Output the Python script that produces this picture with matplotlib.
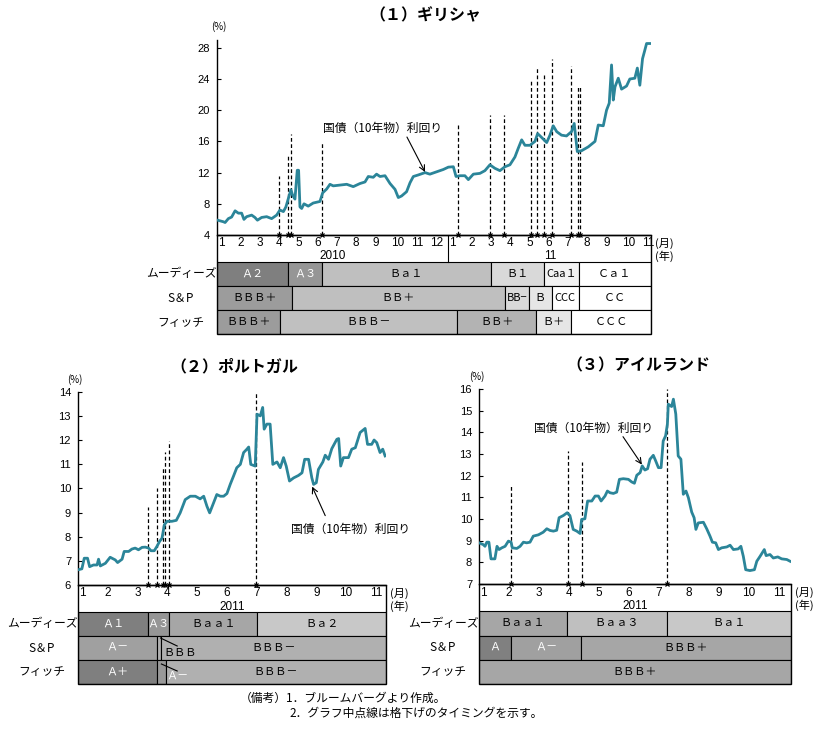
import numpy as np
import matplotlib
matplotlib.use("Agg")
import matplotlib.pyplot as plt
from matplotlib.patches import Rectangle

plt.rcParams['font.family'] = ['Noto Sans CJK JP', 'DejaVu Sans']
NUM_FONT = ['Liberation Sans Narrow', 'Liberation Sans', 'DejaVu Sans']

# ---------------- data ----------------
# x positions are months counted from the first month shown (0 = start of Jan)
# (1) Greece, from Jan 2010
gr_x = [0.00, 0.33, 0.42, 0.59, 0.76, 0.94, 1.11, 1.28, 1.40, 1.54,
        1.80, 1.97, 2.10, 2.32, 2.58, 2.84, 3.10, 3.27, 3.45, 3.58,
        3.71, 3.84, 3.93, 4.05, 4.17, 4.24, 4.31, 4.40, 4.52, 4.74,
        5.00, 5.35, 5.49, 5.70, 5.87, 6.04, 6.39, 6.74, 7.08, 7.43,
        7.69, 7.86, 8.12, 8.29, 8.47, 8.73, 8.99, 9.25, 9.42, 9.59,
        9.85, 10.03, 10.20, 10.46, 10.81, 11.06, 11.41, 11.76, 12.02, 12.28,
        12.42, 12.62, 12.88, 13.06, 13.32, 13.66, 13.92, 14.18, 14.44, 14.70,
        14.96, 15.22, 15.48, 15.65, 15.83, 16.00, 16.26, 16.52, 16.66, 16.87,
        17.13, 17.30, 17.47, 17.65, 17.90, 18.16, 18.42, 18.56, 18.72, 18.94,
        19.29, 19.64, 19.81, 20.07, 20.24, 20.38, 20.50, 20.59, 20.68, 20.85,
        21.02, 21.28, 21.45, 21.71, 21.84, 21.97, 22.11, 22.23, 22.32, 22.49]
gr_y = [5.92, 5.7, 5.6, 6.1, 6.3, 7.1, 6.8, 6.8, 6.0, 6.35,
        6.55, 6.25, 5.9, 6.25, 6.35, 6.1, 6.55, 7.2, 7.0, 7.6,
        8.7, 9.8, 9.1, 8.6, 12.3, 12.3, 7.6, 7.4, 8.0, 7.7,
        8.1, 8.3, 9.4, 9.9, 10.5, 10.3, 10.4, 10.5, 10.2, 10.6,
        10.8, 11.5, 11.4, 11.8, 11.5, 11.6, 10.6, 9.85, 8.8, 9.0,
        9.55, 10.7, 11.5, 11.7, 12.0, 11.8, 12.1, 12.4, 12.7, 12.75,
        11.5, 11.6, 11.6, 11.1, 11.8, 11.9, 12.25, 13.0, 12.55, 12.25,
        12.75, 13.0, 14.0, 15.1, 16.2, 15.5, 15.5, 16.0, 17.0, 16.5,
        15.85, 16.8, 18.0, 17.25, 16.8, 16.7, 17.25, 18.3, 14.7, 14.8,
        15.3, 16.0, 18.1, 18.0, 20.0, 20.9, 25.8, 21.3, 23.0, 24.1,
        22.7, 23.1, 24.0, 24.1, 25.4, 23.2, 26.6, 27.7, 28.55, 28.55]
gr_dash_x = [3.22, 3.69, 3.84, 5.45, 12.52, 14.18, 14.91, 16.31, 16.62,
             16.99, 17.40, 18.39, 18.75, 18.86]
gr_dash_top = [11.5, 14.3, 17.0, 15.8, 18.1, 19.4, 19.4, 23.9, 25.6,
               24.5, 26.5, 25.7, 23.1, 23.1]
gr_moodys_cut = [3.69, 5.45, 14.23, 17.0, 18.8]
gr_moodys = ["Ａ２", "Ａ３", "Ｂａ１", "Ｂ１", "Caa１", "Ｃａ１"]
gr_sp_cut = [3.9, 14.96, 16.2, 17.4, 18.8]
gr_sp = ["ＢＢＢ＋", "ＢＢ＋", "BB−", "Ｂ", "CCC", "ＣＣ"]
gr_fitch_cut = [3.27, 12.47, 16.6, 18.4]
gr_fitch = ["ＢＢＢ＋", "ＢＢＢ－", "ＢＢ＋", "Ｂ＋", "ＣＣＣ"]

# (2) Portugal, from Jan 2011
pt_x = [0.00, 0.13, 0.21, 0.32, 0.39, 0.52, 0.64, 0.69, 0.75, 0.92,
        1.08, 1.25, 1.33, 1.48, 1.55, 1.70, 1.81, 1.92, 2.03, 2.15,
        2.26, 2.37, 2.45, 2.56, 2.65, 2.74, 2.82, 2.90, 2.99, 3.15,
        3.30, 3.43, 3.60, 3.77, 3.94, 4.10, 4.22, 4.33, 4.42, 4.55,
        4.66, 4.78, 4.89, 5.00, 5.11, 5.22, 5.33, 5.45, 5.56, 5.67,
        5.73, 5.80, 5.95, 6.01, 6.12, 6.20, 6.25, 6.34, 6.45, 6.54,
        6.68, 6.79, 6.90, 6.99, 7.10, 7.24, 7.40, 7.52, 7.61, 7.74,
        7.85, 7.91, 8.00, 8.07, 8.22, 8.30, 8.41, 8.52, 8.69, 8.75,
        8.82, 8.91, 9.08, 9.19, 9.31, 9.47, 9.64, 9.72, 9.86, 9.94,
        10.03, 10.14, 10.23, 10.31]
pt_y = [6.63, 6.67, 7.11, 7.11, 6.76, 6.83, 6.83, 7.07, 6.79, 6.9,
        7.15, 7.04, 6.93, 7.07, 7.39, 7.39, 7.49, 7.53, 7.46, 7.56,
        7.57, 7.53, 7.42, 7.42, 7.60, 7.81, 7.94, 8.5, 8.64, 8.64,
        8.68, 8.99, 9.54, 9.68, 9.68, 9.57, 9.68, 9.26, 8.99, 9.4,
        9.75, 9.68, 9.68, 9.79, 10.17, 10.51, 10.86, 11.0, 11.49, 11.63,
        11.72, 11.0, 10.93, 13.08, 13.01, 13.36, 12.46, 12.67, 12.67, 11.0,
        11.1, 10.86, 11.28, 10.93, 10.31, 10.44, 10.54, 10.65, 11.21, 11.21,
        10.44, 10.17, 10.24, 10.79, 11.1, 11.38, 11.21, 11.65, 12.04, 12.07,
        10.93, 11.28, 11.28, 11.63, 11.69, 12.32, 12.49, 11.83, 11.83, 12.01,
        11.9, 11.49, 11.63, 11.35]
pt_dash_x = [2.35, 2.66, 2.84, 2.91, 3.04, 5.98]
pt_dash_top = [9.25, 10.0, 10.88, 11.5, 11.95, 14.0]
pt_moodys_cut = [2.36, 3.06, 6.02]
pt_moodys = ["Ａ１", "Ａ３", "Ｂａａ１", "Ｂａ２"]
pt_sp_cut = [2.66, 2.80]
pt_sp = ["Ａ－", "", "ＢＢＢ－"]
pt_fitch_cut = [2.66, 2.96]
pt_fitch = ["Ａ＋", "", "ＢＢＢ－"]

# (3) Ireland, from Jan 2011
ie_x = [0.0, 0.14, 0.2, 0.26, 0.33, 0.4, 0.53, 0.6, 0.67, 0.76,
        0.87, 0.98, 1.07, 1.11, 1.26, 1.37, 1.48, 1.59, 1.70, 1.81,
        1.98, 2.14, 2.26, 2.37, 2.48, 2.59, 2.67, 2.81, 2.94, 3.03,
        3.14, 3.26, 3.37, 3.42, 3.53, 3.62, 3.76, 3.87, 3.98, 4.07,
        4.2, 4.28, 4.37, 4.48, 4.59, 4.68, 4.81, 4.98, 5.09, 5.18,
        5.26, 5.37, 5.44, 5.53, 5.62, 5.7, 5.81, 5.89, 5.98, 6.07,
        6.14, 6.22, 6.28, 6.31, 6.42, 6.48, 6.56, 6.64, 6.73, 6.81,
        6.9, 6.98, 7.09, 7.17, 7.23, 7.31, 7.48, 7.59, 7.7, 7.78,
        7.89, 7.98, 8.09, 8.26, 8.37, 8.48, 8.64, 8.73, 8.81, 8.89,
        9.03, 9.18, 9.26, 9.37, 9.51, 9.57, 9.7, 9.81, 9.96, 10.09,
        10.26, 10.37]
ie_y = [8.9, 8.82, 8.74, 8.93, 8.93, 8.16, 8.16, 8.74, 8.59, 8.67,
        8.74, 8.98, 8.93, 8.67, 8.64, 8.74, 8.93, 8.9, 8.93, 9.21,
        9.27, 9.39, 9.55, 9.47, 9.44, 9.48, 10.06, 10.16, 10.29, 10.16,
        9.52, 9.44, 9.33, 9.98, 10.01, 10.83, 10.83, 11.06, 11.06, 10.83,
        11.06, 11.29, 11.21, 11.18, 11.24, 11.83, 11.86, 11.83, 11.71, 11.65,
        12.02, 12.14, 12.45, 12.26, 12.32, 12.76, 12.94, 12.68, 12.37, 12.37,
        13.6, 13.84, 14.38, 15.3, 15.19, 15.53, 14.84, 12.91, 12.76, 11.14,
        11.29, 10.98, 10.32, 10.06, 9.52, 9.82, 9.85, 9.55, 9.21, 8.93,
        8.9, 8.59, 8.67, 8.71, 8.79, 8.59, 8.62, 8.74, 8.28, 7.66,
        7.62, 7.66, 8.05, 8.28, 8.59, 8.31, 8.36, 8.2, 8.25, 8.16,
        8.13, 8.05]
ie_dash_x = [1.07, 2.98, 3.42, 6.28]
ie_dash_top = [11.55, 13.14, 12.63, 16.0]
ie_moodys_cut = [2.93, 6.27]
ie_moodys = ["Ｂａａ１", "Ｂａａ３", "Ｂａ１"]
ie_sp_cut = [1.07, 3.4]
ie_sp = ["Ａ", "Ａ－", "ＢＢＢ＋"]
ie_fitch_cut = []
ie_fitch = ["ＢＢＢ＋"]

agency_names = ["ムーディーズ", "S＆P", "フィッチ"]
line_label = "国債（10年物）利回り"

# ---------------- styles ----------------
LINE_COLOR = "#2b8599"
W, H = 825, 730
fig = plt.figure(figsize=(W / 100, H / 100), dpi=100)


def box(l, t, r, b):
    return fig.add_axes([l / W, 1 - b / H, (r - l) / W, (b - t) / H])


def ftext(x, y, s, **kw):
    fig.text(x / W, 1 - y / H, s, **kw)


def draw_chart(ax, x, y, xmax, ylim, yticks, dash_x, dash_top):
    ax.plot(x, y, color=LINE_COLOR, lw=2.0, solid_joinstyle='round', zorder=3)
    for dx, dt in zip(dash_x, dash_top):
        ax.plot([dx, dx], [ylim[0], dt], color='black', lw=0.9,
                ls=(0, (3, 2)), zorder=2)
    ax.plot(dash_x, [ylim[0]] * len(dash_x), 'x', color='black', ms=3,
            mew=0.9, clip_on=False, zorder=4)
    ax.set_xlim(0, xmax)
    ax.set_ylim(*ylim)
    ax.set_yticks(yticks)
    ax.set_xticks([])
    ax.tick_params(axis='y', direction='in', length=3, width=0.8, pad=5,
                   labelsize=8)
    for lab in ax.get_yticklabels():
        lab.set_family(NUM_FONT)
    for s in ['top', 'right']:
        ax.spines[s].set_visible(False)
    ax.spines['left'].set_linewidth(1.0)
    ax.spines['bottom'].set_linewidth(1.0)
    ax.patch.set_alpha(0)


def draw_table(ax, xmax, month_pos, month_ha, years, year_pos, year_breaks, rows):
    label_h, row_h = 27, 24
    total = label_h + 3 * row_h
    ax.set_xlim(0, xmax)
    ax.set_ylim(total, 0)
    ax.axis('off')
    months = list(range(1, 13)) * 2
    for i, p in enumerate(month_pos):
        ax.text(p, 8.5, str(months[i]), ha=month_ha[i], va='center',
                fontsize=8.5, family=NUM_FONT)
    for yl, yp in zip(years, year_pos):
        ax.text(yp, 21.5, yl, ha='center', va='center', fontsize=8.5,
                family=NUM_FONT)
    for b in year_breaks:
        ax.plot([b, b], [0, label_h], color='black', lw=0.8)
    for i, (cuts, labels, colors, tcols) in enumerate(rows):
        edges = np.array([0] + cuts + [xmax])
        top = label_h + i * row_h
        ax.barh(top, np.diff(edges), left=edges[:-1], height=row_h,
                align='edge', color=colors, edgecolor='black', lw=0.8)
        for j, lab in enumerate(labels):
            if lab:
                ax.text((edges[j] + edges[j + 1]) / 2, top + row_h / 2, lab,
                        ha='center', va='center', fontsize=8, color=tcols[j])
    ax.add_patch(Rectangle((0, 0), xmax, total, fill=False, ec='black',
                           lw=1.0, clip_on=False))
    return label_h, row_h


# ---------------- (1) Greece ----------------
GR = (217, 40, 651, 235, 334)
ax = box(GR[0], GR[1], GR[2], GR[3])
gr_xmax = 22.55
draw_chart(ax, gr_x, gr_y, gr_xmax, (4, 29.0), range(4, 29, 4), gr_dash_x, gr_dash_top)
ax.text(8.62, 17.72, line_label, ha='center', va='center', fontsize=8.5)
ax.annotate('', xy=(10.81, 12.08), xytext=(9.87, 16.56),
            arrowprops=dict(arrowstyle='->', lw=0.8, color='black',
                            shrinkA=0, shrinkB=0))
tb = box(GR[0], GR[3], GR[2], GR[4])
draw_table(tb, gr_xmax, [m + 0.06 for m in range(23)], ['left'] * 23,
           ["2010", "11"], [6, 17.3], [12],
           [(gr_moodys_cut, gr_moodys,
             ["#7f7f7f", "#969696", "#bfbfbf", "#d9d9d9", "#f2f2f2", "#ffffff"],
             ["white", "white", "black", "black", "black", "black"]),
            (gr_sp_cut, gr_sp,
             ["#9c9c9c", "#bfbfbf", "#d9d9d9", "#e6e6e6", "#ffffff", "#ffffff"],
             ["black"] * 6),
            (gr_fitch_cut, gr_fitch,
             ["#9c9c9c", "#c0c0c0", "#b3b3b3", "#e6e6e6", "#ffffff"],
             ["black"] * 5)])
ftext(425, 15, "（１）ギリシャ", ha='center', va='center', fontsize=11.5, weight='bold')
ftext(219, 27, "(%)", ha='center', va='center', fontsize=7)

# ---------------- (2) Portugal ----------------
PT = (78, 392, 386, 585, 684)
ax = box(PT[0], PT[1], PT[2], PT[3])
pt_xmax = 10.34
draw_chart(ax, pt_x, pt_y, pt_xmax, (6, 14.0), range(6, 15), pt_dash_x, pt_dash_top)
ax.text(9.14, 8.29, line_label, ha='center', va='center', fontsize=8.5)
ax.annotate('', xy=(7.86, 10.08), xytext=(8.30, 8.875),
            arrowprops=dict(arrowstyle='->', lw=0.8, color='black',
                            shrinkA=0, shrinkB=0))
tb = box(PT[0], PT[3], PT[2], PT[4])
lh, rh = draw_table(tb, pt_xmax, [0.03] + list(range(1, 11)), ['left'] + ['center'] * 10,
                    ["2011"], [pt_xmax / 2], [],
                    [(pt_moodys_cut, pt_moodys,
                      ["#7f7f7f", "#969696", "#a6a6a6", "#c8c8c8"],
                      ["white", "white", "black", "black"]),
                     (pt_sp_cut, pt_sp, ["#a0a0a0", "#b0b0b0", "#b0b0b0"],
                      ["white", "black", "black"]),
                     (pt_fitch_cut, pt_fitch, ["#7f7f7f", "#999999", "#b0b0b0"],
                      ["white", "white", "black"])])
# labels of the narrow cells, drawn outside with a leader line
tb.plot([2.77, 3.33], [53, 61], color='black', lw=0.8)
tb.text(2.86, 68, "ＢＢＢ", ha='left', va='center', fontsize=8)
tb.plot([2.80, 3.33], [79, 86], color='black', lw=0.8)
tb.text(3.34, 92, "Ａ－", ha='center', va='center', fontsize=8, color='white')
ftext(234, 366, "（２）ポルトガル", ha='center', va='center', fontsize=11.5, weight='bold')
ftext(75, 380, "(%)", ha='center', va='center', fontsize=7)

# ---------------- (3) Ireland ----------------
IE = (479, 389, 791, 584, 684)
ax = box(IE[0], IE[1], IE[2], IE[3])
ie_xmax = 10.4
draw_chart(ax, ie_x, ie_y, ie_xmax, (7, 16.0), range(7, 17), ie_dash_x, ie_dash_top)
ax.text(3.82, 14.18, line_label, ha='center', va='center', fontsize=8.5)
ax.annotate('', xy=(5.43, 12.51), xytext=(4.8, 13.8),
            arrowprops=dict(arrowstyle='->', lw=0.8, color='black',
                            shrinkA=0, shrinkB=0))
tb = box(IE[0], IE[3], IE[2], IE[4])
draw_table(tb, ie_xmax, [0.03] + list(range(1, 11)), ['left'] + ['center'] * 10,
           ["2011"], [ie_xmax / 2], [],
           [(ie_moodys_cut, ie_moodys, ["#a6a6a6", "#bfbfbf", "#c8c8c8"],
             ["black"] * 3),
            (ie_sp_cut, ie_sp, ["#808080", "#a0a0a0", "#a6a6a6"],
             ["white", "white", "black"]),
            (ie_fitch_cut, ie_fitch, ["#a6a6a6"], ["black"])])
ftext(638, 365, "（３）アイルランド", ha='center', va='center', fontsize=11.5, weight='bold')
ftext(477, 377, "(%)", ha='center', va='center', fontsize=7)

# row labels and unit labels for all three tables
for (l, t_tab, r) in [(GR[0], GR[3], GR[2]), (PT[0], PT[3], PT[2]), (IE[0], IE[3], IE[2])]:
    for i, name in enumerate(agency_names):
        ftext(l - 36, t_tab + 27 + 24 * i + 12, name, ha='center', va='center', fontsize=8.5)
    ftext(r + 13, t_tab + 8, "(月)", ha='center', va='center', fontsize=8)
    ftext(r + 13, t_tab + 21, "(年)", ha='center', va='center', fontsize=8)

# notes
ftext(240, 698, "（備考）1．ブルームバーグより作成。", ha='left', va='center', fontsize=8.5)
ftext(289, 713, "2．グラフ中点線は格下げのタイミングを示す。", ha='left', va='center', fontsize=8.5)

fig.savefig("out.png", dpi=100)
